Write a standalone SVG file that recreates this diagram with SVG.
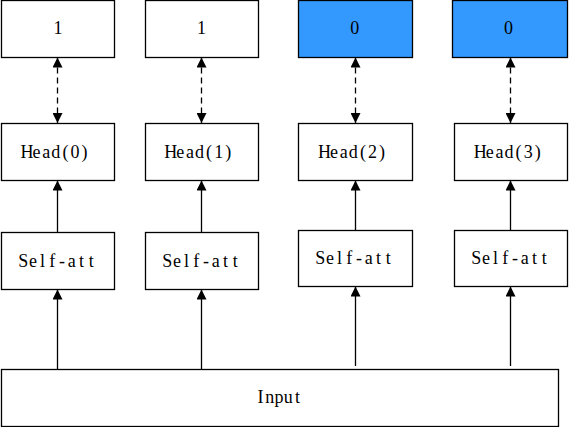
<svg xmlns="http://www.w3.org/2000/svg" width="569" height="427" viewBox="0 0 569 427">
<defs>
<style>
.box{fill:#ffffff;stroke:#000000;stroke-width:1.3}
.blue{fill:#3399ff}
.t{font-family:"Liberation Serif","Noto Sans CJK SC",serif;font-size:18px;fill:#000}
.m{text-anchor:middle}
.c{stroke:#000;stroke-width:1.3;fill:none}
.d{stroke-dasharray:6 4}
</style>
<marker id="ah" viewBox="0 0 10 10" refX="10" refY="5" markerWidth="10" markerHeight="10" markerUnits="userSpaceOnUse" orient="auto-start-reverse">
<path d="M0,0 L10,5 L0,10 Z" fill="#000"/>
</marker>
</defs>
<rect width="569" height="427" fill="#fff"/>
<g id="connectors">
<line class="c d" x1="57.5" y1="57.5" x2="57.5" y2="123" marker-start="url(#ah)" marker-end="url(#ah)"/>
<line class="c d" x1="201.5" y1="57.5" x2="201.5" y2="123" marker-start="url(#ah)" marker-end="url(#ah)"/>
<line class="c d" x1="355.5" y1="57.5" x2="355.5" y2="123" marker-start="url(#ah)" marker-end="url(#ah)"/>
<line class="c d" x1="510.5" y1="57.5" x2="510.5" y2="123" marker-start="url(#ah)" marker-end="url(#ah)"/>
<line class="c" x1="57.5" y1="232" x2="57.5" y2="180.5" marker-end="url(#ah)"/>
<line class="c" x1="201.5" y1="232" x2="201.5" y2="180.5" marker-end="url(#ah)"/>
<line class="c" x1="355.5" y1="230" x2="355.5" y2="180.5" marker-end="url(#ah)"/>
<line class="c" x1="510.5" y1="230" x2="510.5" y2="180.5" marker-end="url(#ah)"/>
<line class="c" x1="57.5" y1="369" x2="57.5" y2="289.5" marker-end="url(#ah)"/>
<line class="c" x1="201.5" y1="369" x2="201.5" y2="289.5" marker-end="url(#ah)"/>
<line class="c" x1="355.5" y1="366" x2="355.5" y2="286.5" marker-end="url(#ah)"/>
<line class="c" x1="510.5" y1="366" x2="510.5" y2="286.5" marker-end="url(#ah)"/>
</g>
<g id="out0"><rect class="box" x="1.5" y="0.5" width="113" height="57"/><text class="t m" x="58" y="34.3">1</text></g>
<g id="out1"><rect class="box" x="145.5" y="0.5" width="113" height="57"/><text class="t m" x="201.5" y="34.3">1</text></g>
<g id="out2"><rect class="box blue" x="298.5" y="0.5" width="114" height="57"/><text class="t m" x="354.7" y="34.3">0</text></g>
<g id="out3"><rect class="box blue" x="452.5" y="0.5" width="115" height="57"/><text class="t m" x="508.5" y="34.3">0</text></g>
<g id="head0"><rect class="box" x="1.5" y="123.5" width="113" height="57"/><text class="t" transform="translate(55.8,157.5)" x="-35.3 -23.2 -13.6 -4.5 6.6 14.7 25.8" y="0">Head(0)</text></g>
<g id="head1"><rect class="box" x="145.5" y="123.5" width="113" height="57"/><text class="t" transform="translate(199.5,157.5)" x="-35.3 -23.2 -13.6 -4.5 6.6 14.7 25.8" y="0">Head(1)</text></g>
<g id="head2"><rect class="box" x="298.5" y="123.5" width="114" height="57"/><text class="t" transform="translate(353.3,157.5)" x="-35.3 -23.2 -13.6 -4.5 6.6 14.7 25.8" y="0">Head(2)</text></g>
<g id="head3"><rect class="box" x="454.5" y="123.5" width="113" height="57"/><text class="t" transform="translate(509,157.5)" x="-35.3 -23.2 -13.6 -4.5 6.6 14.7 25.8" y="0">Head(3)</text></g>
<g id="att0"><rect class="box" x="1.5" y="232.5" width="113" height="57"/><text class="t" transform="translate(57.2,266.5)" x="-39 -28.3 -17.1 -7.9 1.9 10.6 21.8 31.5" y="0">Self-att</text></g>
<g id="att1"><rect class="box" x="145.5" y="232.5" width="113" height="57"/><text class="t" transform="translate(201.2,266.5)" x="-39 -28.3 -17.1 -7.9 1.9 10.6 21.8 31.5" y="0">Self-att</text></g>
<g id="att2"><rect class="box" x="298.5" y="230.5" width="114" height="56"/><text class="t" transform="translate(354.2,263.5)" x="-39 -28.3 -17.1 -7.9 1.9 10.6 21.8 31.5" y="0">Self-att</text></g>
<g id="att3"><rect class="box" x="454.5" y="230.5" width="113" height="56"/><text class="t" transform="translate(510.2,263.5)" x="-39 -28.3 -17.1 -7.9 1.9 10.6 21.8 31.5" y="0">Self-att</text></g>
<g id="input"><rect class="box" x="1.5" y="369.5" width="557" height="57"/><text class="t" transform="translate(279,402.5)" x="-21.4 -13.7 -4.5 4.7 15.9" y="0">Input</text></g>
</svg>
